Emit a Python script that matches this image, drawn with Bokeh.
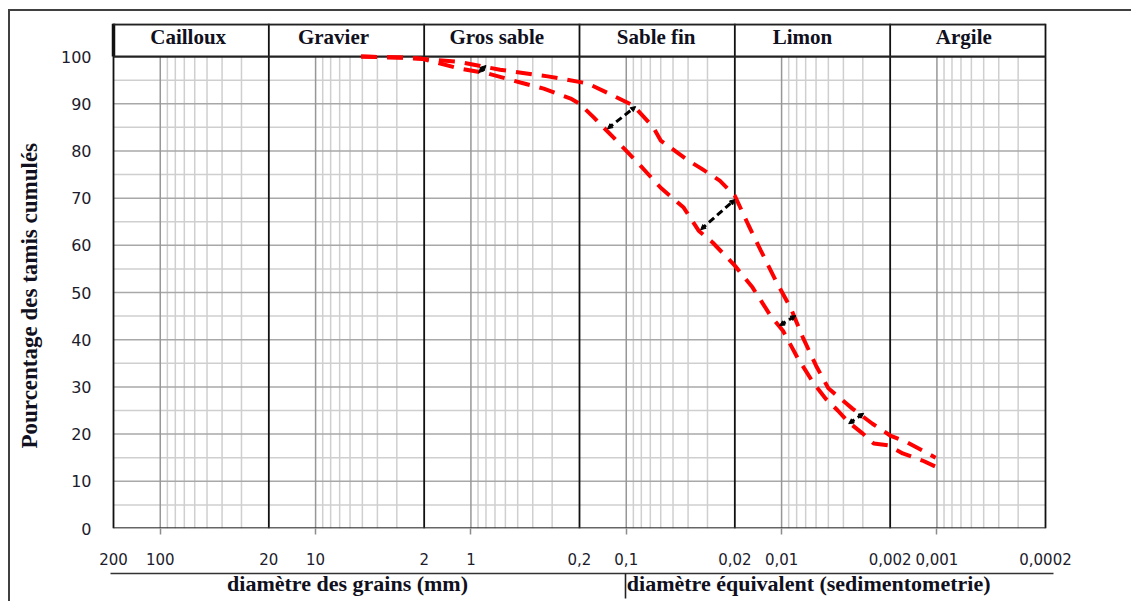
import math
from bokeh.plotting import figure
from bokeh.models import (Range1d, FixedTicker, CustomJSTickFormatter, LinearAxis,
                          ColumnDataSource, Arrow, NormalHead, Title)
from bokeh.core.properties import value
from bokeh.embed import file_html
from bokeh.resources import INLINE

# ---------------- data ----------------
classes = ["Cailloux", "Gravier", "Gros sable", "Sable fin", "Limon", "Argile"]
bounds = [200, 20, 2, 0.2, 0.02, 0.002, 0.0002]
x_ticks = [200, 100, 20, 10, 2, 1, 0.2, 0.1, 0.02, 0.01, 0.002, 0.001, 0.0002]
y_ticks = [0, 10, 20, 30, 40, 50, 60, 70, 80, 90, 100]

upper_d = [5.1, 2.8, 1.2, 0.65, 0.32, 0.177, 0.130, 0.090, 0.067, 0.060, 0.040, 0.033,
           0.025, 0.020, 0.0163, 0.0136, 0.0109, 0.0087, 0.0073, 0.0060, 0.0050, 0.0035,
           0.0026, 0.0020, 0.00154, 0.00102]
upper_p = [100, 99.8, 98.9, 97.2, 95.8, 94.3, 92.2, 89.6, 85.0, 82.2, 78.0, 76.3,
           73.7, 70.5, 64.2, 58.9, 52.5, 46.6, 40.5, 34.5, 29.7, 25.4,
           22.2, 19.7, 18.2, 15.0]

lower_d = [5.1, 2.1, 1.2, 0.78, 0.48, 0.34, 0.228, 0.20, 0.162, 0.1205, 0.0845, 0.060,
           0.0427, 0.0342, 0.0278, 0.020, 0.0154, 0.0118, 0.0098, 0.0079, 0.0062, 0.0052,
           0.00435, 0.0037, 0.0030, 0.00255, 0.00205, 0.00166, 0.00124, 0.00099]
lower_p = [100, 99.6, 97.5, 96.4, 94.5, 93.2, 91.1, 90.0, 87.1, 82.8, 77.5, 72.2,
           68.0, 63.1, 60.6, 55.7, 51.1, 45.1, 41.9, 36.2, 30.7, 27.5,
           25.0, 22.5, 20.1, 18.0, 17.6, 15.9, 14.4, 12.9]

arr_d0 = [0.89, 0.132, 0.0332, 0.0103, 0.0037]
arr_p0 = [96.6, 84.7, 63.3, 43.0, 22.2]
arr_d1 = [0.80, 0.087, 0.020, 0.0081, 0.00296]
arr_p1 = [98.1, 89.4, 69.7, 45.1, 24.4]

titles = ["diamètre des grains (mm)", "diamètre équivalent (sedimentometrie)"]
y_title = "Pourcentage des tamis cumulés"

# ---------------- layout helpers ----------------
PX_DEC = 155.3                      # pixels per decade
x_lo = bounds[0] * 10 ** (3 / PX_DEC)
x_hi = bounds[-1] / 10 ** (8 / PX_DEC)
Y_TOP = 107.0


def xpos(px):  # page pixel -> data x (layout helper for annotations)
    return bounds[0] / 10 ** ((px - 113) / PX_DEC)


frame_css = {
    "background-image": "linear-gradient(#404040, #404040), linear-gradient(#404040, #404040)",
    "background-size": "2px 100%, 100% 2px",
    "background-position": "8px 9px, 8px 9px",
    "background-repeat": "no-repeat",
}

p = figure(x_axis_type="log", x_range=Range1d(x_lo, x_hi), y_range=Range1d(0, Y_TOP),
           frame_width=943, frame_height=505,
           min_border_left=110, min_border_right=78, min_border_top=23, min_border_bottom=73,
           output_backend="svg", toolbar_location=None, styles=frame_css)
p.outline_line_color = None
p.grid.visible = False
p.background_fill_color = "white"
p.border_fill_color = None

# ---------------- grid ----------------
light_x, unit_x = [], []
for i in range(len(bounds) - 1):
    lo = bounds[i + 1]
    step = 10 ** math.floor(math.log10(lo))
    for k in range(3, 10):
        light_x.append(k * step)
    unit_x.append(10 * step)

y5 = [v + 5 for v in y_ticks[:-1]]
y10 = y_ticks[1:-1]

p.segment(x0=[bounds[0]] * len(y5), y0=y5, x1=[bounds[-1]] * len(y5), y1=y5,
          line_color="#cfcfcf", line_width=1.5)
p.segment(x0=light_x, y0=[0] * len(light_x), x1=light_x, y1=[100] * len(light_x),
          line_color="#cfcfcf", line_width=1.5)
p.segment(x0=[bounds[0]] * len(y10), y0=y10, x1=[bounds[-1]] * len(y10), y1=y10,
          line_color="#a8a8a8", line_width=1.5)
p.segment(x0=unit_x, y0=[0] * len(unit_x), x1=unit_x, y1=[100] * len(unit_x),
          line_color="#979797", line_width=1.5)

# frame / header lines
p.segment(x0=bounds, y0=[0] * len(bounds), x1=bounds, y1=[Y_TOP] * len(bounds),
          line_color="#111111", line_width=1.8)
p.segment(x0=[bounds[0]], y0=[100], x1=[bounds[0]], y1=[Y_TOP], line_color="#111111", line_width=3.5)
p.segment(x0=[bounds[0], bounds[0]], y0=[100, Y_TOP - 0.2], x1=[bounds[-1], bounds[-1]],
          y1=[100, Y_TOP - 0.2], line_color="#222222", line_width=2.2)
p.segment(x0=[bounds[0]], y0=[0.1], x1=[bounds[-1]], y1=[0.1], line_color="#333333", line_width=1.6)

# header labels
centers = [math.sqrt(bounds[i] * bounds[i + 1]) for i in range(len(classes))]
p.text(x=centers, y=[104.2] * len(classes), text=classes,
       x_offset=[-3, -13, -5, -1, -10, -4],
       text_align="center", text_baseline="middle",
       text_font=value("Liberation Serif"), text_font_style="bold",
       text_font_size="21px", text_color="#101020")

# ---------------- curves ----------------
p.line(upper_d, upper_p, line_color="#ff0000", line_width=4, line_dash="16 10")
p.line(lower_d, lower_p, line_color="#ff0000", line_width=4, line_dash="16 10")

src = ColumnDataSource(dict(x0=arr_d0, y0=arr_p0, x1=arr_d1, y1=arr_p1))
p.add_layout(Arrow(source=src, x_start="x0", y_start="y0", x_end="x1", y_end="y1",
                   line_color="black", line_width=3, line_dash="7 4",
                   start=NormalHead(size=5, fill_color="black", line_color="black", line_width=1),
                   end=NormalHead(size=5, fill_color="black", line_color="black", line_width=1)))

# ---------------- axes ----------------
xa = p.xaxis[0]
xa.ticker = FixedTicker(ticks=x_ticks, minor_ticks=unit_x)
xa.formatter = CustomJSTickFormatter(code="return String(tick).replace('.', ',');")
xa.axis_line_color = None
xa.major_tick_line_color = None
xa.major_tick_out = 0
xa.major_tick_in = 0
xa.minor_tick_line_color = "#8c8c8c"
xa.minor_tick_line_width = 1.5
xa.minor_tick_out = 6
xa.minor_tick_in = 0
xa.major_label_standoff = 18
xa.major_label_text_font = "DejaVu Sans"
xa.major_label_text_font_size = "15px"
xa.major_label_text_color = "#1c1c2c"
xa.axis_label = " "
xa.axis_label_text_font_size = "3px"
xa.axis_label_standoff = 0

ax2 = LinearAxis(ticker=FixedTicker(ticks=[xpos(347), xpos(808)], minor_ticks=[xpos(625)]),
                 formatter=CustomJSTickFormatter(args=dict(a=titles[0], b=titles[1], mid=xpos(625)),
                                                 code="return tick > mid ? a : b;"))
ax2.axis_line_color = "#333333"
ax2.axis_line_width = 1.6
ax2.major_tick_line_color = None
ax2.major_tick_out = 0
ax2.major_tick_in = 0
ax2.minor_tick_line_color = "#222222"
ax2.minor_tick_line_width = 1.6
ax2.minor_tick_out = 25
ax2.minor_tick_in = 0
ax2.major_label_standoff = -28
ax2.major_label_text_font = "Liberation Serif"
ax2.major_label_text_font_style = "bold"
ax2.major_label_text_font_size = "22px"
ax2.major_label_text_color = "#101020"
p.add_layout(ax2, "below")

ya = p.yaxis[0]
ya.ticker = FixedTicker(ticks=y_ticks)
ya.axis_line_color = None
ya.major_tick_line_color = None
ya.minor_tick_line_color = None
ya.major_tick_out = 0
ya.major_tick_in = 0
ya.major_label_standoff = 19
ya.major_label_text_font = "DejaVu Sans"
ya.major_label_text_font_size = "16px"
ya.major_label_text_color = "#1c1c2c"

yt = Title(text=y_title, align="left", vertical_align="top", offset=80, standoff=28,
           text_font="Liberation Serif", text_font_style="bold",
           text_font_size="23px", text_color="#101020")
p.add_layout(yt, "left")

open("out.html", "w").write(file_html(p, INLINE))
